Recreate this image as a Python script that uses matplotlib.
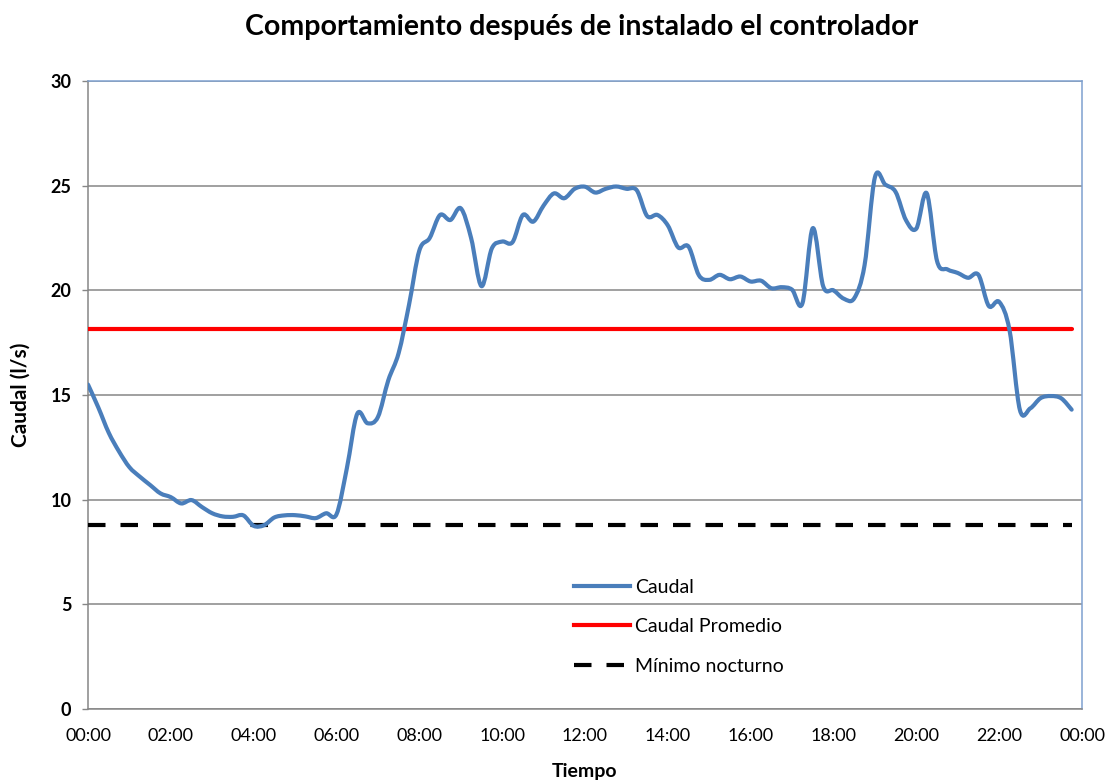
import matplotlib
matplotlib.use("Agg")
import matplotlib.pyplot as plt
from matplotlib.path import Path
from matplotlib.patches import PathPatch
from matplotlib.lines import Line2D
import numpy as np

plt.rcParams['font.family'] = ['Lato', 'DejaVu Sans']

# Flow readings every 15 minutes, hours since midnight
hours = [i * 0.25 for i in range(96)]
caudal = [
    15.5, 14.4, 13.2, 12.3, 11.55, 11.1, 10.7, 10.3,
    10.12, 9.82, 9.98, 9.65, 9.35, 9.2, 9.18, 9.25,
    8.75, 8.78, 9.15, 9.25, 9.26, 9.2, 9.12, 9.35,
    9.3, 11.5, 14.1, 13.65, 13.95, 15.7, 17.0, 19.3,
    21.9, 22.5, 23.6, 23.36, 23.92, 22.5, 20.2, 22.0,
    22.33, 22.3, 23.6, 23.28, 24.05, 24.63, 24.4, 24.85,
    24.95, 24.67, 24.85, 24.96, 24.85, 24.78, 23.55, 23.6,
    23.1, 22.05, 22.09, 20.72, 20.5, 20.74, 20.53, 20.66,
    20.42, 20.46, 20.1, 20.15, 20.03, 19.38, 22.97, 20.2,
    20.0, 19.6, 19.62, 21.2, 25.4, 25.05, 24.7, 23.35,
    22.95, 24.64, 21.4, 21.0, 20.83, 20.6, 20.74, 19.25,
    19.45, 18.1, 14.29, 14.36, 14.85, 14.95, 14.84, 14.3,
]
caudal_promedio = 18.15
minimo_nocturno = 8.78

x_ticks = list(range(0, 25, 2))
x_tick_labels = ["00:00", "02:00", "04:00", "06:00", "08:00", "10:00", "12:00",
                 "14:00", "16:00", "18:00", "20:00", "22:00", "00:00"]
y_ticks = [0, 5, 10, 15, 20, 25, 30]

series_labels = ["Caudal", "Caudal Promedio", "Mínimo nocturno"]
blue = "#4A7EBB"

fig = plt.figure(figsize=(11.1, 7.82), dpi=100)
ax = fig.add_axes([88 / 1110, 1 - 709 / 782, (1082 - 88) / 1110, (709 - 81) / 782])


def smooth_path(xs, ys):
    """Cubic Bezier path through the points (Catmull-Rom tangents)."""
    p = np.column_stack([xs, ys]).astype(float)
    n = len(p)
    verts = [p[0]]
    codes = [Path.MOVETO]
    for i in range(n - 1):
        p0 = p[i - 1] if i > 0 else p[i]
        p1 = p[i]
        p2 = p[i + 1]
        p3 = p[i + 2] if i + 2 < n else p[i + 1]
        c1 = p1 + (p2 - p0) / 6.0
        c2 = p2 - (p3 - p1) / 6.0
        verts += [c1, c2, p2]
        codes += [Path.CURVE4] * 3
    return Path(verts, codes)


ax.add_patch(PathPatch(smooth_path(hours, caudal), facecolor="none",
                       edgecolor=blue, lw=3.0, capstyle="round",
                       joinstyle="round", zorder=4))
ax.plot([hours[0], hours[-1]], [caudal_promedio] * 2, color="#FF0000",
        lw=3.0, solid_capstyle="round", zorder=3)
ax.plot([hours[0], hours[-1]], [minimo_nocturno] * 2, color="black",
        lw=3.0, dashes=(4.2, 3.6), dash_capstyle="butt", zorder=3)

ax.set_xlim(0, 24)
ax.set_ylim(0, 30)
ax.set_xticks(x_ticks)
ax.set_xticklabels(x_tick_labels, fontsize=13)
ax.set_yticks(y_ticks)
ax.set_yticklabels([str(v) for v in y_ticks], fontsize=13, fontweight="bold")
ax.tick_params(axis="y", length=4, width=1, color="#868686", pad=8)
ax.tick_params(axis="x", length=0, pad=14)
ax.grid(axis="y", color="#868686", lw=1.1)
ax.set_axisbelow(True)

for side in ("left", "bottom"):
    ax.spines[side].set_color("#868686")
    ax.spines[side].set_linewidth(1.1)
for side in ("top", "right"):
    ax.spines[side].set_color("#7FA1CF")
    ax.spines[side].set_linewidth(1.1)

ax.set_xlabel("Tiempo", fontsize=14, fontweight="bold", labelpad=13)
ax.set_ylabel("Caudal (l/s)", fontsize=15, fontweight="bold", labelpad=14)
fig.text(0.5 * (247 + 917) / 1110, 1 - 27 / 782,
         "Comportamiento después de instalado el controlador",
         ha="center", va="center", fontsize=20.5, fontweight="bold")

handles = [
    Line2D([], [], color=blue, lw=3.0),
    Line2D([], [], color="#FF0000", lw=3.0),
    Line2D([], [], color="black", lw=3.0, dashes=(4.2, 3.6)),
]
ax.legend(handles, series_labels, loc="upper left",
          bbox_to_anchor=((566 - 88) / 994, (709 - 571) / 628),
          frameon=False, fontsize=14, handlelength=2.9, handletextpad=0.25,
          labelspacing=1.15, borderaxespad=0)

fig.savefig("out.png", dpi=100, facecolor="white")
